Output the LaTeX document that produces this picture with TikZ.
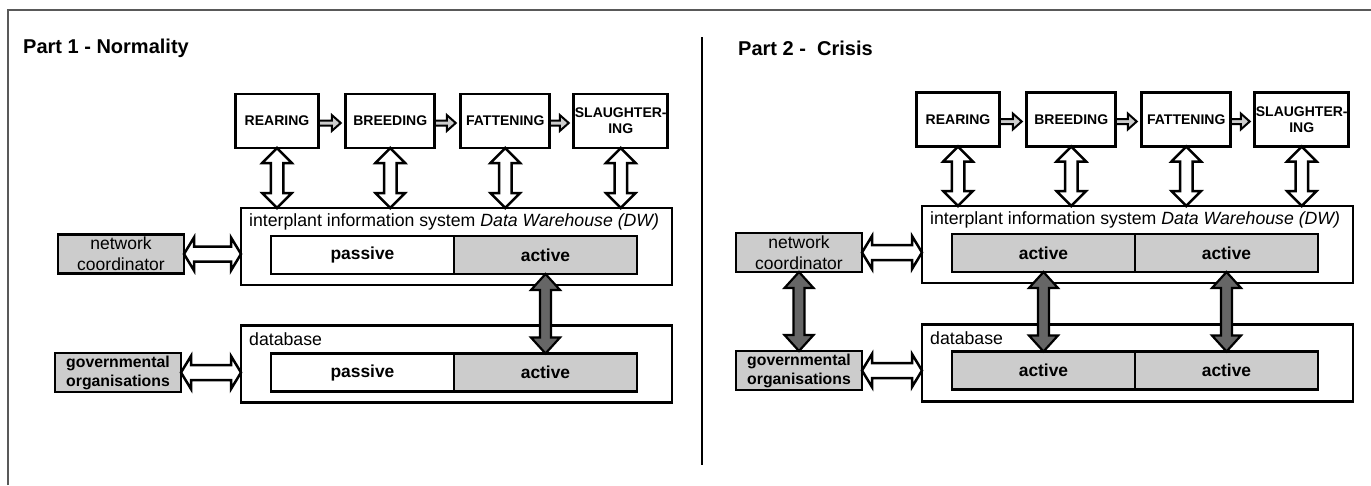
\documentclass[tikz,border=0pt]{standalone}
\usepackage{fontspec}
\setmainfont{Liberation Sans}
\usepackage{tikz}
\usetikzlibrary{positioning,calc}
\definecolor{SCgray}{HTML}{CCCCCC}
\definecolor{SCdark}{HTML}{666666}
\tikzset{
  sc/stage/.style={draw, line width=2.8pt, outer sep=0pt, inner sep=0pt, minimum height=54pt, align=center, font=\fontsize{14}{16}\selectfont\bfseries},
  sc/system/.style={draw, line width=2.4pt, outer sep=0pt, minimum width=431pt, minimum height=77pt},
  sc/cell/.style={draw, line width=2.8pt, outer sep=0pt, inner sep=0pt, minimum width=183pt, minimum height=38pt, font=\fontsize{17.4}{20}\selectfont\bfseries},
  sc/passive/.style={sc/cell, fill=white},
  sc/active/.style={sc/cell, fill=SCgray},
  sc/actor/.style={draw, line width=2.8pt, outer sep=0pt, inner sep=0pt, fill=SCgray, minimum width=126pt, minimum height=39pt, align=center},
  sc/coord/.style={sc/actor, font=\fontsize{17.5}{21}\selectfont},
  sc/gov/.style={sc/actor, font=\fontsize{15.8}{19}\selectfont\bfseries},
  sc/caption/.style={anchor=west, inner sep=0pt, font=\fontsize{17.7}{20}\selectfont},
  sc/title/.style={anchor=west, inner sep=0pt, font=\fontsize{20}{24}\selectfont\bfseries},
  % fat arrows: half shaft, half head, head length
  sc/fatv/.style n args={3}{to path={let \p1=(\tikztostart), \p2=(\tikztotarget) in
    (\x1,\y1) -- (\x1+#2,\y1-#3) -- (\x1+#1,\y1-#3) -- (\x1+#1,\y2+#3) -- (\x1+#2,\y2+#3)
    -- (\x1,\y2) -- (\x1-#2,\y2+#3) -- (\x1-#1,\y2+#3) -- (\x1-#1,\y1-#3) -- (\x1-#2,\y1-#3) -- cycle}},
  sc/fath/.style n args={3}{to path={let \p1=(\tikztostart), \p2=(\tikztotarget) in
    (\x1,\y1) -- (\x1+#3,\y1+#2) -- (\x1+#3,\y1+#1) -- (\x2-#3,\y1+#1) -- (\x2-#3,\y1+#2)
    -- (\x2,\y1) -- (\x2-#3,\y1-#2) -- (\x2-#3,\y1-#1) -- (\x1+#3,\y1-#1) -- (\x1+#3,\y1-#2) -- cycle}},
  sc/fatr/.style n args={3}{to path={let \p1=(\tikztostart), \p2=(\tikztotarget) in
    (\x1,\y1+#1) -- (\x2-#3,\y1+#1) -- (\x2-#3,\y1+#2) -- (\x2,\y1)
    -- (\x2-#3,\y1-#2) -- (\x2-#3,\y1-#1) -- (\x1,\y1-#1) -- cycle}},
  sc/link/.style={sc/fatv={6.25pt}{14.75pt}{15pt}, draw, fill=white, line width=2.5pt},
  sc/hlink/.style={sc/fath={7.5pt}{16.5pt}{10pt}, draw, fill=white, line width=2.5pt},
  sc/push/.style={sc/fatv={5.5pt}{14.5pt}{16pt}, draw, fill=SCdark, line width=2.2pt},
  sc/flow/.style={sc/fatr={2.5pt}{8pt}{9pt}, draw, fill=SCgray, line width=2pt}
}

\begin{document}
\begin{tikzpicture}[x=1pt, y=-1pt]
  \useasboundingbox (0,0) rectangle (1371,485);
  \draw[black!65, line width=1.2pt] (8,485) |- (1371,10);
  \draw[line width=2.4pt] (702,37) -- (702,465);

  % Part 1
  \node[sc/title] (t1) at (23,48) {Part 1 - Normality};
  \node[sc/stage, minimum width=83.5pt] (rear1) at (277,121) {REARING};
  \node[sc/stage, minimum width=89pt, right=27pt of rear1] (breed1) {BREEDING};
  \node[sc/stage, minimum width=89pt, right=26pt of breed1] (fat1) {FATTENING};
  \node[sc/stage, minimum width=94pt, right=24pt of fat1] (slau1) {SLAUGHTER-\\ING};
  \node[sc/system] (dw1) at (456.5,246.5) {};
  \node[sc/caption] (dwcap1) at ([shift={(8,14)}]dw1.north west) {interplant information system \textit{Data Warehouse (DW)}};
  \node[sc/passive] (pas1) at (362.5,255) {passive};
  \node[sc/active, right=0pt of pas1] (act1) {active};
  \node[sc/system] (db1) at (456.5,364) {};
  \node[sc/caption] (dbcap1) at ([shift={(8,14)}]db1.north west) {database};
  \node[sc/passive] (dbp1) at (362.5,372.5) {passive};
  \node[sc/active, right=0pt of dbp1] (dba1) {active};
  \node[sc/coord] (nc1) at (121,254) {network\\coordinator};
  \node[sc/gov] (gov1) at (118,372.5) {governmental\\organisations};

  \draw[sc/flow] ([yshift=-2pt]rear1.east) to ([xshift=-5pt]breed1.west);
  \draw[sc/flow] ([yshift=-2pt]breed1.east) to ([xshift=-5pt]fat1.west);
  \draw[sc/flow] ([yshift=-2pt]fat1.east) to ([xshift=-5pt]slau1.west);
  \foreach \s in {rear1,breed1,fat1,slau1}
    \draw[sc/link] (\s.south) to (\s.south |- dw1.north);
  \draw[sc/hlink] (nc1.east) to (nc1.east -| dw1.west);
  \draw[sc/hlink] (gov1.east) to (gov1.east -| db1.west);
  \draw[sc/push] (act1.south) to (act1.south |- dba1.north);

  % Part 2
  \node[sc/title] (t2) at (738,48) {Part 2 - \ Crisis};
  \node[sc/stage, minimum width=83.5pt] (rear2) at (958,119.5) {REARING};
  \node[sc/stage, minimum width=89pt, right=27pt of rear2] (breed2) {BREEDING};
  \node[sc/stage, minimum width=89pt, right=26pt of breed2] (fat2) {FATTENING};
  \node[sc/stage, minimum width=94pt, right=24pt of fat2] (slau2) {SLAUGHTER-\\ING};
  \node[sc/system] (dw2) at (1137.5,244.5) {};
  \node[sc/caption] (dwcap2) at ([shift={(8,14)}]dw2.north west) {interplant information system \textit{Data Warehouse (DW)}};
  \node[sc/active] (acta2) at (1043.5,253) {active};
  \node[sc/active, right=0pt of acta2] (actb2) {active};
  \node[sc/system] (db2) at (1137.5,363) {};
  \node[sc/caption] (dbcap2) at ([shift={(8,14)}]db2.north west) {database};
  \node[sc/active] (dba2) at (1043.5,370.5) {active};
  \node[sc/active, right=0pt of dba2] (dbb2) {active};
  \node[sc/coord] (nc2) at (799,252.5) {network\\coordinator};
  \node[sc/gov] (gov2) at (799,370.5) {governmental\\organisations};

  \draw[sc/flow] ([yshift=-2pt]rear2.east) to ([xshift=-5pt]breed2.west);
  \draw[sc/flow] ([yshift=-2pt]breed2.east) to ([xshift=-5pt]fat2.west);
  \draw[sc/flow] ([yshift=-2pt]fat2.east) to ([xshift=-5pt]slau2.west);
  \foreach \s in {rear2,breed2,fat2,slau2}
    \draw[sc/link] (\s.south) to (\s.south |- dw2.north);
  \draw[sc/hlink] (nc2.east) to (nc2.east -| dw2.west);
  \draw[sc/hlink] (gov2.east) to (gov2.east -| db2.west);
  \draw[sc/push] (acta2.south) to (acta2.south |- dba2.north);
  \draw[sc/push] (actb2.south) to (actb2.south |- dbb2.north);
  \draw[sc/push] (nc2.south) to (gov2.north);
\end{tikzpicture}
\end{document}
